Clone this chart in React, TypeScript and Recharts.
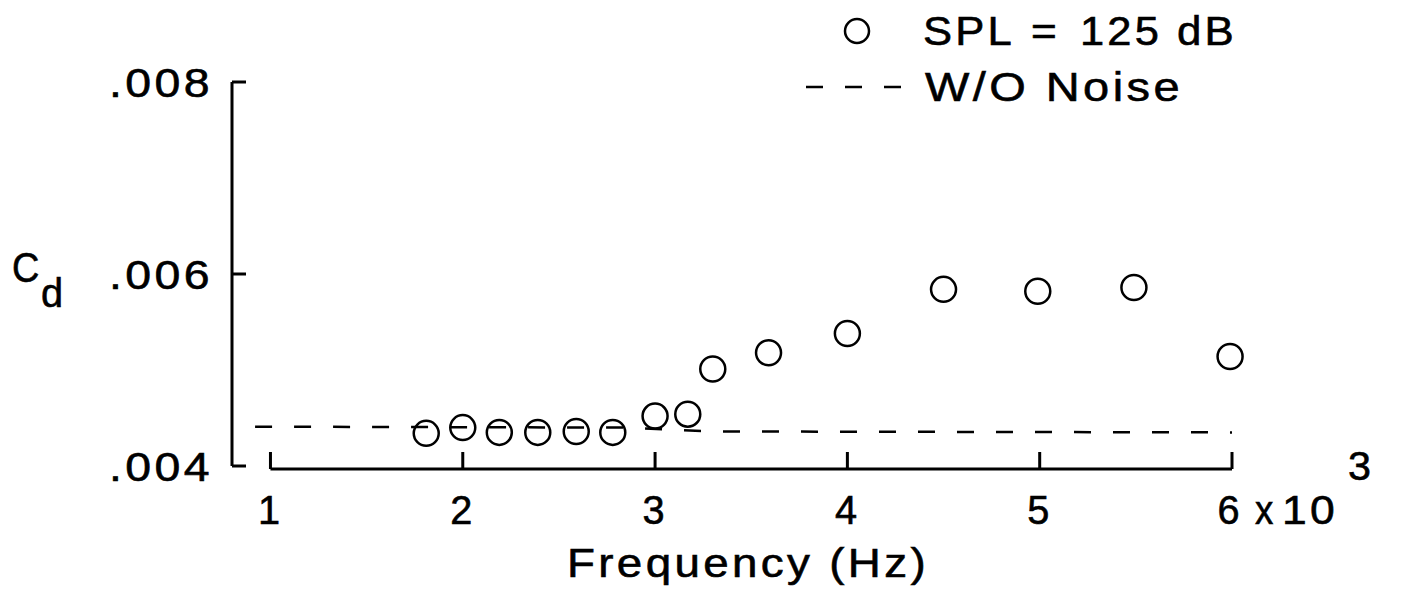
// Cd vs frequency, SPL = 125 dB against the no-noise baseline
import { ComposedChart, XAxis, YAxis, Line, Scatter, ReferenceLine, Legend } from "recharts";

// frequency in kHz (axis shows x10^3 Hz)
const FREQ_KHZ = [1.81, 2.0, 2.19, 2.39, 2.59, 2.78, 3.0, 3.17, 3.3, 3.59, 4.0, 4.5, 4.99, 5.49, 5.99];
const CD_SPL125 = [
  0.00434, 0.0044, 0.00435, 0.00435, 0.00436, 0.00435, 0.00452, 0.00454, 0.00501, 0.00518, 0.00538,
  0.00584, 0.00582, 0.00586, 0.00514,
];

// W/O noise baseline
const FREQ_BASE = [0.92, 2.85, 3.3, 6.0];
const CD_BASE = [0.00441, 0.0044, 0.00436, 0.00435];

const X_TICKS = [1, 2, 3, 4, 5, 6];
const Y_TICKS = [0.004, 0.006, 0.008];
const X_DOMAIN = [0.8, 6];
const Y_DOMAIN = [0.004, 0.008];
const X_AXIS_CD = 0.00397; // x axis sits a hair below .004

const FONT = "'Liberation Sans', Arial, Helvetica, sans-serif";
// plotter-ish lettering: a bit wide, a bit spaced, a bit heavy
const TXT = {
  fontFamily: FONT,
  fontSize: 41,
  fill: "#000",
  stroke: "#000",
  strokeWidth: 0.6,
  letterSpacing: 3,
  lengthAdjust: "spacingAndGlyphs",
} as const;

const noiseData = FREQ_KHZ.map((f, i) => ({ f, cd: CD_SPL125[i] }));
const baseData = FREQ_BASE.map((f, i) => ({ f, cd: CD_BASE[i] }));

function XTick(props: any) {
  const { x, y, payload } = props;
  const v = payload.value;
  if (v === 6) {
    return (
      <g>
        <line x1={x} x2={x} y1={y + 3} y2={y - 14} stroke="#000" strokeWidth={3} />
        <text {...TXT} x={x - 2} y={y + 58} textAnchor="middle" textLength={25}>6</text>
        <text {...TXT} x={x + 23} y={y + 58} textLength={21}>x</text>
        <text {...TXT} x={x + 50} y={y + 58} textLength={56}>10</text>
        <text {...TXT} x={x + 116} y={y + 14} textLength={26}>3</text>
      </g>
    );
  }
  return (
    <g>
      <line x1={x} x2={x} y1={y + 3} y2={y - 14} stroke="#000" strokeWidth={3} />
      <text {...TXT} x={x} y={y + 58} textAnchor="middle" textLength={25}>
        {v}
      </text>
    </g>
  );
}

function YTick(props: any) {
  const { x, y, payload } = props;
  const label = payload.value.toFixed(3).replace(/^0/, "");
  return (
    <g>
      <line x1={x} x2={x + 14} y1={y} y2={y} stroke="#000" strokeWidth={3} />
      <text {...TXT} x={x - 19} y={y + 15} textAnchor="end" textLength={104}>
        {label}
      </text>
    </g>
  );
}

function CdLabel() {
  return (
    <g>
      <text {...TXT} fontSize={43} x={12} y={282} textLength={30}>C</text>
      <text {...TXT} x={41} y={307} textLength={25}>d</text>
    </g>
  );
}

function FreqLabel() {
  return (
    <text {...TXT} x={567} y={577} textLength={362}>
      Frequency (Hz)
    </text>
  );
}

function LegendBox() {
  return (
    <svg width={1405} height={115} style={{ display: "block" }}>
      <circle cx={857} cy={31} r={12} fill="none" stroke="#000" strokeWidth={2.5} />
      <text {...TXT} x={923} y={45} textLength={92}>SPL</text>
      <text {...TXT} x={1031} y={45} textLength={29}>=</text>
      <text {...TXT} x={1080} y={45} textLength={82}>125</text>
      <text {...TXT} x={1177} y={45} textLength={60}>dB</text>
      <line x1={806} x2={902} y1={87} y2={87} stroke="#000" strokeWidth={2.5} strokeDasharray="17 22" />
      <text {...TXT} x={925} y={101} textLength={258}>W/O Noise</text>
    </svg>
  );
}

export default function App() {
  return (
    <div style={{ position: "absolute", left: 0, top: 0, width: 1405, height: 598, background: "#fff" }}>
      <ComposedChart width={1405} height={598} margin={{ top: 82, right: 173, left: 0, bottom: 0 }}>
        <XAxis
          dataKey="f"
          type="number"
          domain={X_DOMAIN}
          ticks={X_TICKS}
          axisLine={false}
          tickLine={false}
          tickSize={0}
          tickMargin={0}
          tick={<XTick />}
          height={132}
          label={<FreqLabel />}
        />
        <YAxis
          dataKey="cd"
          type="number"
          domain={Y_DOMAIN}
          ticks={Y_TICKS}
          width={232}
          axisLine={{ stroke: "#000", strokeWidth: 3 }}
          tickLine={false}
          tickSize={0}
          tickMargin={0}
          tick={<YTick />}
          label={<CdLabel />}
        />
        {/* x axis only runs from 1 to 6 */}
        <ReferenceLine
          segment={[
            { x: X_TICKS[0], y: X_AXIS_CD },
            { x: X_TICKS[X_TICKS.length - 1], y: X_AXIS_CD },
          ]}
          stroke="#000"
          strokeWidth={3}
          ifOverflow="visible"
        />
        <Line
          data={baseData}
          dataKey="cd"
          type="linear"
          stroke="#000"
          strokeWidth={2.5}
          strokeDasharray="17 22"
          dot={false}
          activeDot={false}
          isAnimationActive={false}
        />
        <Scatter
          data={noiseData}
          dataKey="cd"
          isAnimationActive={false}
          shape={(p: any) => <circle cx={p.cx} cy={p.cy} r={12.5} fill="none" stroke="#000" strokeWidth={2.5} />}
        />
        <Legend
          layout="horizontal"
          verticalAlign="middle"
          align="center"
          wrapperStyle={{ top: 0, left: 0, width: 1405, height: 115 }}
          content={() => <LegendBox />}
        />
      </ComposedChart>
    </div>
  );
}
